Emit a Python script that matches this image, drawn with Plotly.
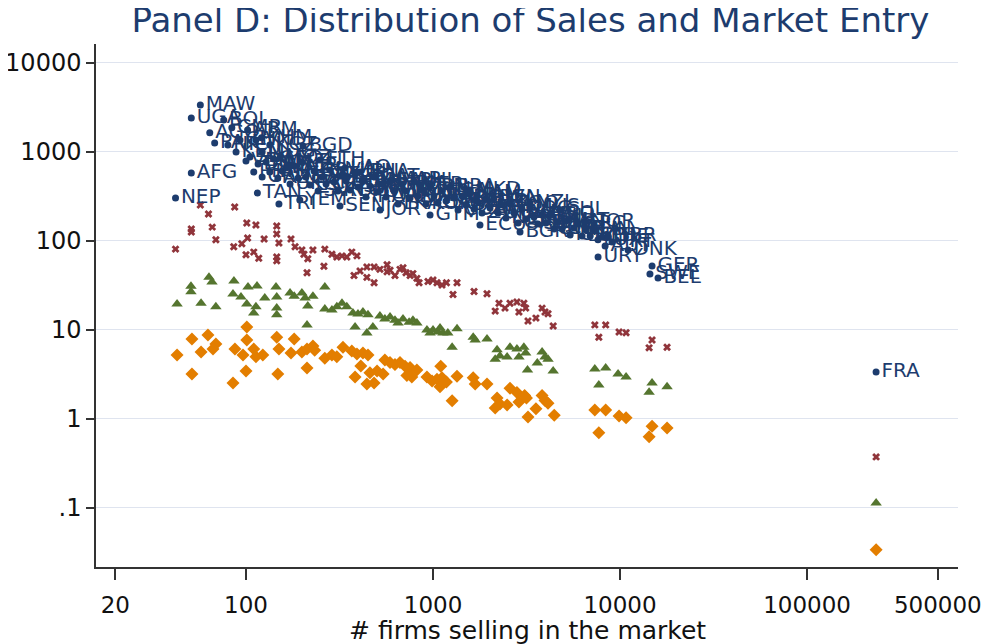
import plotly.graph_objects as go

# ---------------- data ----------------
# navy series (labelled countries): outliers / named points
navy_lbl_a = ["MAW", "UGA", "BOL", "AGO", "CMR", "ARM", "KHM", "PAK", "NIC", "KGZ",
              "BGD", "VEN", "AFG", "NEP", "TAN", "TRI", "KEN", "CIV", "HND", "MDG",
              "MOZ", "ETH", "LAO", "GHA", "MAR", "PER", "MKD", "NZL", "CHL", "NOR",
              "YEM", "SEN", "JOR", "GTM", "ECU", "BGR", "URY", "DNK", "GER", "SWE",
              "BEL", "PRT", "AUT", "FRA"]
navy_x_a = [57, 51, 76, 64, 84, 102, 121, 68, 80, 134,
            202, 100, 51, 42, 115, 150, 88.5, 92.9, 113, 122,
            152, 249, 338, 407, 604, 851, 1578, 3304, 4777, 6501,
            194, 318, 521, 964, 1783, 2919, 7630, 11040, 14830, 14450,
            15960, 9060, 8320, 233900]
navy_y_a = [3370, 2410, 2290, 1640, 1870, 1770, 1440, 1260, 1200, 1200,
            1167, 790, 580, 304, 346, 261, 1000, 1365, 1365, 1000,
            857, 813, 661, 596, 484, 426, 374, 267, 223, 163,
            289, 247, 223, 196, 151, 126, 66.1, 79.3, 52.4, 42.6,
            38.4, 97.4, 87.9, 3.37]

# navy series: dense band
navy_lbl_b = ["SLV", "PRY", "DOM", "CRI", "PAN", "JAM", "GEO", "AZE", "MNG", "KAZ",
              "UKR", "BLR", "MDA", "LTU", "LVA", "EST", "HRV", "SVN", "SVK", "CZE",
              "HUN", "POL", "ROM", "TUR", "EGY", "TUN", "LBN", "SYR", "IRN", "IRQ",
              "KWT", "QAT", "OMN", "BHR", "ARE", "SAU", "IND", "LKA", "THA", "MYS",
              "IDN", "PHL", "VNM", "CHN", "KOR", "JPN", "AUS", "CAN", "USA", "MEX",
              "BRA", "ARG", "COL", "URU", "BWA", "NAM", "ZAF", "ZMB", "ZWE", "RWA",
              "BDI", "BEN", "BFA", "MLI", "NER", "TGO", "GIN", "GAB", "COG", "CAF",
              "MUS", "MWI", "SDN", "ERI", "DJI", "LSO", "SWZ", "ISR", "CYP", "MLT",
              "ISL", "IRL", "GRC", "ESP", "ITA", "NLD", "FIN", "LUX", "CHE", "GBR"]
navy_x_b = [105, 110, 116, 122, 128, 134, 141, 148, 156, 164,
            172, 181, 190, 199, 209, 220, 231, 243, 255, 268,
            281, 296, 310, 326, 343, 360, 378, 397, 417, 438,
            460, 484, 508, 534, 561, 589, 619, 650, 683, 717,
            754, 791, 832, 873, 917, 964, 1012, 1063, 1117, 1174,
            1233, 1295, 1361, 1429, 1501, 1578, 1657, 1741, 1828, 1919,
            2018, 2118, 2228, 2339, 2455, 2582, 2710, 2851, 2992, 3141,
            3304, 3467, 3639, 3828, 4018, 4227, 4436, 4656, 4898, 5140,
            5408, 5675, 5957, 6266, 6577, 6918, 7261, 7621, 8017, 8630]
navy_y_b = [879, 596, 733, 524, 773, 596, 834, 511, 612, 661,
            437, 697, 511, 773, 524, 426, 612, 365, 524, 437,
            628, 460, 365, 552, 472, 374, 596, 404, 472, 312,
            415, 524, 355, 437, 312, 472, 365, 261, 437, 365,
            304, 472, 321, 374, 261, 404, 321, 267, 365, 281,
            404, 304, 223, 321, 254, 346, 229, 274, 206, 296,
            235, 304, 206, 254, 181, 261, 206, 159, 229, 177,
            241, 186, 155, 196, 159, 201, 136, 163, 136, 168,
            117, 140, 155, 114, 133, 114, 133, 103, 111, 114]

# maroon series
maroon_x = [42, 51, 51, 57, 63, 66, 69, 87, 86, 95,
            100, 101, 102, 110, 113, 117, 125, 146, 146, 150,
            146, 146, 174, 183, 199, 204, 214, 228, 212, 264,
            288, 306, 326, 346, 368, 392, 261, 407, 378, 443,
            443, 484, 520, 484, 568, 589, 568, 626, 666, 717,
            754, 691, 820, 842, 940, 1000, 1050, 1117, 1180, 1344,
            1279, 1657, 1944, 2253, 2426, 2150, 2580, 2810, 3060, 2880,
            3130, 3830, 3970, 4120, 3220, 3550, 4390, 7330, 8380, 7700,
            9880, 10770, 14830, 14300, 17840, 234000, 781]
maroon_y = [81, 136, 126, 254, 201, 143, 103, 241, 86, 93,
            70, 159, 108, 75, 151, 64, 105, 147, 120, 95,
            66, 60, 105, 86, 79, 71, 63, 79, 44, 81,
            71, 66, 68, 66, 75, 68, 52, 46, 41, 51,
            39, 51, 48, 34, 54, 47, 45, 41, 48, 44,
            41, 50, 38, 34, 35, 36.5, 34, 32, 34, 34,
            25, 27, 25.5, 20, 17.6, 16.3, 20, 20.6, 20, 15.9,
            17.6, 17.6, 15.9, 15.2, 12.6, 13.6, 11.1, 11.4, 11.4, 8.3,
            9.5, 9.3, 7.7, 6.3, 6.4, 0.375, 43]

# green series
green_x = [42.8, 50.8, 50.8, 57.5, 63.4, 65.8, 69, 86.2, 85.2, 94,
           102.5, 114.5, 101, 113, 110, 126, 144.7, 146, 146, 146,
           172, 181, 199, 207, 228, 214, 212, 264, 264, 288,
           306, 326, 346, 373, 397, 422, 449, 383, 443, 477,
           520, 553, 589, 626, 650, 691, 745, 781, 820, 928,
           964, 1000, 1063, 1090, 1130, 1200, 1344, 1265, 1640, 1680,
           1944, 2200, 2280, 2490, 2150, 2580, 2810, 3060, 3130, 2880,
           3830, 3970, 4120, 3610, 3200, 4390, 7330, 8380, 7700, 9760,
           10770, 14830, 14300, 17840, 234000]
green_y = [19.6, 31, 26.8, 20, 39, 34.6, 18.2, 35.5, 25.4, 23.5,
           30.4, 31.2, 19.6, 18.2, 15.5, 22.9, 30.4, 23.5, 17.7, 14.8,
           26, 24, 26, 22.9, 24, 18.6, 11.4, 30.4, 17.2, 16.8,
           18.2, 20, 18.2, 15.5, 15.1, 15.9, 14.8, 10.8, 9.25, 10.8,
           14.4, 13.3, 14, 12.9, 12, 13.3, 12.2, 12.9, 12, 10,
           9.25, 10, 9.5, 10.5, 9.25, 9.25, 10.3, 6.4, 8.3, 7.7,
           7.9, 6, 5.1, 4.97, 4.7, 6.4, 6.1, 6.4, 5.5, 4.97,
           5.66, 4.97, 4.7, 4.25, 3.55, 3.46, 3.65, 3.74, 2.41, 3.2,
           2.96, 2.54, 2.0, 2.3, 0.114]

# orange series
orange_x = [42.8, 51.4, 51.4, 57.5, 62.6, 69, 66.6, 85.2, 87.3, 96.4,
            101, 101, 110, 113, 123, 100, 146, 150, 148, 181,
            174, 199, 212, 228, 233, 212, 264, 288, 306, 330,
            368, 392, 422, 449, 411, 383, 443, 484, 460, 502,
            541, 553, 589, 626, 666, 709, 754, 820, 725, 770,
            928, 988, 1050, 1117, 1180, 1090, 1100, 1344, 1265, 1640,
            1680, 1944, 2200, 2280, 2490, 2150, 2580, 2810, 3090, 2880,
            3160, 3830, 3970, 4120, 3550, 3220, 4450, 7330, 8380, 7700,
            9880, 10770, 14830, 14300, 17840, 234000]
orange_y = [5.24, 7.9, 3.2, 5.66, 8.8, 6.96, 6.1, 2.54, 6.1, 5.24,
            10.8, 7.7, 6.1, 5, 5.24, 3.46, 8.3, 6.1, 3.2, 7.9,
            5.5, 5.66, 6.1, 6.6, 5.9, 3.74, 4.8, 5.24, 5, 6.4,
            5.8, 5.37, 5.5, 5.24, 3.94, 2.96, 2.47, 2.54, 3.3, 3.46,
            3.2, 4.6, 4.3, 4.1, 4.3, 3.9, 3.8, 3.55, 3.07, 2.96,
            2.96, 2.68, 2.8, 2.9, 2.6, 2.3, 3.9, 3.03, 1.6, 2.9,
            2.47, 2.47, 1.72, 1.47, 1.44, 1.33, 2.22, 1.99, 1.84, 1.55,
            1.72, 1.84, 1.61, 1.5, 1.3, 1.05, 1.1, 1.26, 1.26, 0.70,
            1.08, 1.03, 0.83, 0.63, 0.79, 0.034]

x_ticks = [20, 100, 1000, 10000, 100000, 500000]
x_tick_text = ["20", "100", "1000", "10000", "100000", "500000"]
y_ticks = [10000, 1000, 100, 10, 1, 0.1]
y_tick_text = ["10000", "1000", "100", "10", "1", ".1"]

# ---------------- styles ----------------
NAVY = "#1d3c6e"
MAROON = "#90353b"
GREEN = "#55752f"
ORANGE = "#e37e00"
FONT = "DejaVu Sans"

fig = go.Figure()

fig.add_trace(go.Scatter(
    x=orange_x, y=orange_y, mode="markers",
    marker=dict(symbol="diamond", size=10, color=ORANGE, line=dict(width=0)),
    showlegend=False, hoverinfo="skip"))
fig.add_trace(go.Scatter(
    x=green_x, y=green_y, mode="markers",
    marker=dict(symbol="triangle-up", size=10, color=GREEN, line=dict(width=0)),
    showlegend=False, hoverinfo="skip"))
fig.add_trace(go.Scatter(
    x=maroon_x, y=maroon_y, mode="markers",
    marker=dict(symbol="x", size=7, color=MAROON, line=dict(width=0)),
    showlegend=False, hoverinfo="skip"))
fig.add_trace(go.Scatter(
    x=navy_x_b + navy_x_a, y=navy_y_b + navy_y_a, mode="markers+text",
    text=navy_lbl_b + navy_lbl_a, textposition="middle right",
    textfont=dict(family=FONT, size=20, color=NAVY),
    marker=dict(symbol="circle", size=7, color=NAVY, line=dict(width=0)),
    showlegend=False, hoverinfo="skip", cliponaxis=False))

fig.update_layout(
    width=982, height=636,
    margin=dict(l=88, r=32, t=36, b=77, autoexpand=False),
    paper_bgcolor="white", plot_bgcolor="white",
    font=dict(family=FONT, color="#111111"),
    title=dict(text="Panel D: Distribution of Sales and Market Entry",
               x=0.532, xanchor="center", y=0.981, yanchor="middle",
               yref="container",
               font=dict(family=FONT, size=34, color=NAVY)),
    annotations=[dict(text="# firms selling in the market",
                      xref="paper", yref="paper", x=0.5, y=-0.122,
                      xanchor="center", yanchor="middle", showarrow=False,
                      font=dict(family=FONT, size=25, color="#111111"))],
)

fig.update_xaxes(
    type="log", range=[1.198, 5.807], automargin=False,
    tickvals=x_ticks, ticktext=x_tick_text,
    showgrid=False, zeroline=False,
    showline=True, linecolor="#333333", linewidth=1.5,
    ticks="outside", ticklen=11, tickwidth=1.5, tickcolor="#333333",
    tickfont=dict(family=FONT, size=23, color="#111111"),
    ticklabelstandoff=6,
)
fig.update_yaxes(
    type="log", range=[-1.663, 4.213], automargin=False,
    tickvals=y_ticks, ticktext=y_tick_text,
    showgrid=True, gridcolor="#dfe4ef", gridwidth=1,
    zeroline=False,
    showline=True, linecolor="#333333", linewidth=1.5,
    ticks="outside", ticklen=8, tickwidth=1.5, tickcolor="#333333",
    tickfont=dict(family=FONT, size=24, color="#111111"),
    tickangle=0,
)

fig.write_html("out.html")
